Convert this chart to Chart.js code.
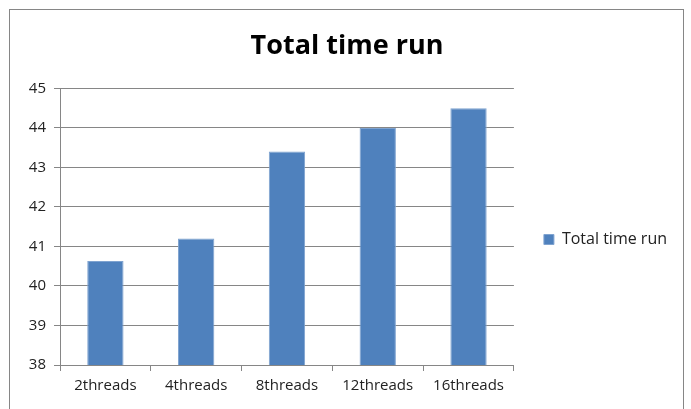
<!DOCTYPE html>
<html><head><meta charset="utf-8">
<script src="https://cdn.jsdelivr.net/npm/chart.js@4"></script>
<style>html,body{margin:0;padding:0;background:#fff}#w{width:691px;height:409px;position:relative}</style>
</head><body><div id="w"><canvas id="c" width="691" height="409"></canvas></div>
<script>
const categories = ["2threads","4threads","8threads","12threads","16threads"];
const seriesName = "Total time run";
const totalTime = [40.63, 41.2, 43.4, 44.0, 44.5];
const yMin = 38, yMax = 45, yStep = 1;

const borderPlugin = {
  id: 'frame',
  beforeDraw(chart){
    const ctx = chart.ctx;
    ctx.save();
    ctx.fillStyle = '#fff';
    ctx.fillRect(0,0,chart.width,chart.height);
    ctx.strokeStyle = '#868686';
    ctx.lineWidth = 1;
    ctx.strokeRect(9.5, 9.5, 674, 420);
    ctx.restore();
  },
  afterLayout(chart){
    if (chart.legend) { chart.legend.top += 35; chart.legend.bottom += 35; }
  }
};

new Chart(document.getElementById('c'), {
  type: 'bar',
  data: { labels: categories, datasets: [{ label: seriesName, data: totalTime,
    backgroundColor: '#4F81BD', borderColor: '#7FA3D0', borderWidth: 1,
    barPercentage: 0.4, categoryPercentage: 1 }] },
  options: {
    responsive: false, animation: false, devicePixelRatio: 1,
    layout: { padding: { left: 17, right: 14, top: 0, bottom: 0 } },
    plugins: {
      title: { display: true, text: 'Total time run', color: '#000',
        font: { family: 'Open Sans', size: 27, weight: 'bold' },
        padding: { top: 30, bottom: 26 } },
      legend: { position: 'right', align: 'center',
        labels: { boxWidth: 10, boxHeight: 10, color: '#222',
          font: { family: 'Open Sans', size: 16 }, padding: 30 } },
      tooltip: { enabled: false }
    },
    scales: {
      y: { min: yMin, max: yMax,
        ticks: { stepSize: yStep, color: '#222', padding: 8, font: { family: 'Open Sans', size: 15 } },
        grid: { color: '#868686', tickLength: 6 },
        border: { color: '#868686' },
        afterFit(s){ s.width = 43; } },
      x: {
        ticks: { color: '#222', padding: 6, font: { family: 'Open Sans', size: 15 } },
        grid: { drawOnChartArea: false, color: '#868686', tickLength: 6, offset: true },
        border: { color: '#868686' },
        afterFit(s){ s.height = 44; } }
    }
  },
  plugins: [borderPlugin]
});
</script></body></html>
